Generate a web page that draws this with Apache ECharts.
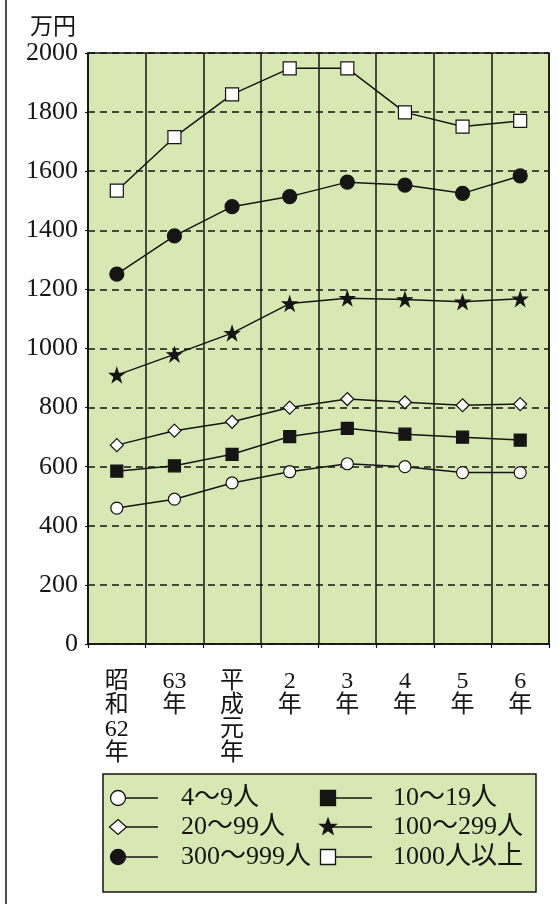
<!DOCTYPE html>
<html>
<head>
<meta charset="utf-8">
<script src="https://cdn.jsdelivr.net/npm/echarts@6/dist/echarts.min.js"></script>
<style>
  html, body { margin: 0; padding: 0; background: #ffffff; }
  #chart { width: 559px; height: 904px; }
</style>
</head>
<body>
<div id="chart"></div>
<script>
// Years on the x axis
const categories = ['昭和62年', '63年', '平成元年', '2年', '3年', '4年', '5年', '6年'];

// Average amount (万円) by company size
const seriesNames = ['4〜9人', '10〜19人', '20〜99人', '100〜299人', '300〜999人', '1000人以上'];
const size4to9     = [460, 490, 545, 583, 610, 600, 580, 580];
const size10to19   = [585, 603, 642, 702, 730, 710, 700, 690];
const size20to99   = [673, 722, 752, 800, 829, 818, 808, 812];
const size100to299 = [910, 980, 1052, 1152, 1170, 1166, 1158, 1168];
const size300to999 = [1252, 1381, 1480, 1514, 1563, 1553, 1525, 1584];
const size1000plus = [1534, 1715, 1860, 1948, 1948, 1799, 1751, 1770];

// Y axis ticks
const yMin = 0, yMax = 2000, yStep = 200;

const FONT = 'Liberation Serif, Noto Sans CJK JP, serif';
const INK = '#151515';
const GREEN = '#d7e8b2';
const STAR = 'path://M50,0 L61.8,35.5 L99,35.5 L69,57.5 L80.5,93 L50,71 L19.5,93 L31,57.5 L1,35.5 L38.2,35.5 Z';

// Marker style for each series: [symbol, size, filled]
const markers = [
  ['circle', 12, false],
  ['rect', 12, true],
  ['diamond', 13, false],
  [STAR, 14, true],
  ['circle', 14, true],
  ['rect', 13, false]
];
const values = [size4to9, size10to19, size20to99, size100to299, size300to999, size1000plus];

// Stack each category label vertically, keeping digit runs together
function verticalLabel(s) {
  return s.match(/\d+|./g).join('\n');
}

const series = values.map((d, i) => ({
  name: seriesNames[i],
  type: 'line',
  data: d,
  symbol: markers[i][0],
  symbolSize: markers[i][1],
  showAllSymbol: true,
  lineStyle: { color: INK, width: 1.5 },
  itemStyle: {
    color: markers[i][2] ? INK : '#ffffff',
    borderColor: INK,
    borderWidth: 1.2
  },
  emphasis: { disabled: true },
  animation: false,
  z: 3
}));

// Legend drawn as a boxed 2x3 key: marker, short line, label
const legendBox = { x: 103, y: 774, w: 433, h: 118 };
const legendCols = [{ sx: 118, lx2: 158, tx: 181 }, { sx: 328, lx2: 372, tx: 393 }];
const legendRows = [798, 827, 857];
// [series index, column, row]
const legendOrder = [[0, 0, 0], [1, 1, 0], [2, 0, 1], [3, 1, 1], [4, 0, 2], [5, 1, 2]];

function starPoints(cx, cy, R) {
  const pts = [];
  const r = R * 0.42;
  for (let k = 0; k < 10; k++) {
    const a = -Math.PI / 2 + k * Math.PI / 5;
    const rr = k % 2 === 0 ? R : r;
    pts.push([cx + rr * Math.cos(a), cy + rr * Math.sin(a)]);
  }
  return pts;
}

function legendMarker(i, cx, cy) {
  const filled = markers[i][2];
  const style = { fill: filled ? INK : '#ffffff', stroke: INK, lineWidth: 1.3 };
  const s = 15;
  switch (i) {
    case 0:
    case 4:
      return { type: 'circle', shape: { cx: cx, cy: cy, r: s / 2 }, style: style, z: 12 };
    case 1:
    case 5:
      return { type: 'rect', shape: { x: cx - s / 2, y: cy - s / 2, width: s, height: s }, style: style, z: 12 };
    case 2:
      return { type: 'polygon', shape: { points: [[cx, cy - s / 2], [cx + s / 2 + 1, cy], [cx, cy + s / 2], [cx - s / 2 - 1, cy]] }, style: style, z: 12 };
    default:
      return { type: 'polygon', shape: { points: starPoints(cx, cy, 8.5) }, style: style, z: 12 };
  }
}

const graphics = [
  // left frame line
  { type: 'line', shape: { x1: 6, y1: 0, x2: 6, y2: 904 }, style: { stroke: INK, lineWidth: 1.5 }, z: 10 },
  // legend box
  { type: 'rect', shape: { x: legendBox.x, y: legendBox.y, width: legendBox.w, height: legendBox.h },
    style: { fill: GREEN, stroke: INK, lineWidth: 1.5 }, z: 10 }
];
legendOrder.forEach(([i, c, r]) => {
  const col = legendCols[c];
  const cy = legendRows[r];
  graphics.push({ type: 'line', shape: { x1: col.sx, y1: cy, x2: col.lx2, y2: cy }, style: { stroke: INK, lineWidth: 1.5 }, z: 11 });
  graphics.push(legendMarker(i, col.sx, cy));
  graphics.push({
    type: 'text', x: col.tx, y: cy, z: 12,
    style: { text: seriesNames[i], fontFamily: FONT, fontSize: 26, fill: INK, verticalAlign: 'middle' }
  });
});

const chart = echarts.init(document.getElementById('chart'));
chart.setOption({
  backgroundColor: '#ffffff',
  animation: false,
  grid: {
    left: 88, right: 10, top: 53, bottom: 260,
    show: true, backgroundColor: GREEN, borderColor: INK, borderWidth: 1.5
  },
  xAxis: {
    type: 'category',
    data: categories,
    boundaryGap: true,
    axisLine: { lineStyle: { color: INK, width: 1.5 } },
    axisTick: { show: true, length: 4, lineStyle: { color: INK, width: 1.2 } },
    splitLine: { show: true, lineStyle: { color: INK, width: 1.5 } },
    axisLabel: {
      formatter: verticalLabel,
      fontFamily: FONT, fontSize: 24, lineHeight: 24, color: INK,
      margin: 26, verticalAlign: 'top', align: 'center'
    }
  },
  yAxis: {
    type: 'value',
    min: yMin, max: yMax, interval: yStep,
    name: '万円',
    nameLocation: 'end',
    nameGap: 14,
    nameTextStyle: { fontFamily: FONT, fontSize: 23, color: INK, align: 'right', verticalAlign: 'bottom', padding: [0, 12, 0, 0] },
    axisLine: { show: true, lineStyle: { color: INK, width: 1.5 } },
    axisTick: { show: true, length: 3, lineStyle: { color: INK, width: 1.2 } },
    splitLine: { show: true, lineStyle: { color: INK, width: 1.6, type: [7, 5] } },
    axisLabel: { fontFamily: FONT, fontSize: 26, color: INK, margin: 10, formatter: v => String(v) }
  },
  graphic: graphics,
  series: series
});
</script>
</body>
</html>
